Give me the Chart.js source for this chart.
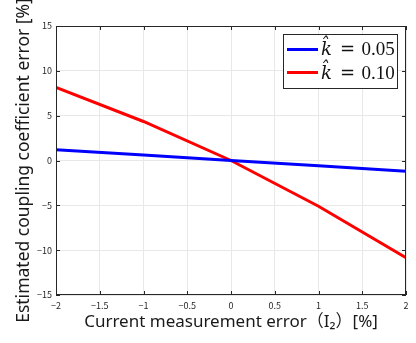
<!DOCTYPE html>
<html><head><meta charset="utf-8">
<script src="https://cdn.jsdelivr.net/npm/chart.js@4"></script>
<style>html,body{margin:0;padding:0;background:#fff}#wrap{width:416px;height:343px}</style>
</head><body><div id="wrap"><canvas id="c" width="416" height="343"></canvas></div>
<script>
const xErrors = [-2, -1, 0, 1, 2];
const seriesK = ['0.05', '0.10'];
const errK005 = [1.2, 0.62, 0, -0.58, -1.2];
const errK010 = [8.15, 4.35, 0, -5.1, -10.85];
const xTicks = [-2, -1.5, -1, -0.5, 0, 0.5, 1, 1.5, 2];
const yTicks = [-15, -10, -5, 0, 5, 10, 15];
const xTitle = 'Current measurement error（I₂）[%]';
const yTitle = 'Estimated coupling coefficient error [%]';

const fmt = v => String(v).replace('-', '\u2212');
const axisColor = '#262626';
const tickFont = {family: '"Noto Sans CJK JP"', size: 9};

const boxPlugin = {
  id: 'box',
  afterDatasetsDraw(chart) {
    const {ctx, chartArea: a, scales} = chart;
    ctx.save();
    ctx.strokeStyle = axisColor;
    ctx.lineWidth = 1;
    ctx.strokeRect(Math.round(a.left) + 0.5, Math.round(a.top) + 0.5,
      Math.round(a.right - a.left) - 1, Math.round(a.bottom - a.top) - 1);
    const L = 4;
    ctx.beginPath();
    xTicks.forEach(v => {
      const x = Math.round(scales.x.getPixelForValue(v)) + 0.5;
      ctx.moveTo(x, a.bottom); ctx.lineTo(x, a.bottom - L);
      ctx.moveTo(x, a.top); ctx.lineTo(x, a.top + L);
    });
    yTicks.forEach(v => {
      const y = Math.round(scales.y.getPixelForValue(v)) + 0.5;
      ctx.moveTo(a.left, y); ctx.lineTo(a.left + L, y);
      ctx.moveTo(a.right, y); ctx.lineTo(a.right - L, y);
    });
    ctx.stroke();
    ctx.restore();
  },
  afterDraw(chart) {
    const {ctx} = chart;
    const bx = 283.5, by = 34.5, bw = 114, bh = 54;
    ctx.save();
    ctx.fillStyle = '#fff';
    ctx.fillRect(bx, by, bw, bh);
    ctx.strokeStyle = axisColor;
    ctx.lineWidth = 1;
    ctx.strokeRect(bx, by, bw, bh);
    chart.data.datasets.forEach((ds, i) => {
      const y = 49.5 + i * 23;
      ctx.strokeStyle = ds.borderColor;
      ctx.lineWidth = 3;
      ctx.beginPath(); ctx.moveTo(287, y); ctx.lineTo(318, y); ctx.stroke();
      ctx.fillStyle = '#111';
      ctx.textBaseline = 'alphabetic';
      const base = 55 + i * 23.5;
      ctx.font = 'italic 18px "DejaVu Serif"';
      ctx.fillText('k\u0302', 321, base);
      ctx.font = '18px "DejaVu Serif"';
      ctx.fillText('=', 340, base);
      ctx.font = '19px "Liberation Serif"';
      ctx.fillText(seriesK[i], 361.5, base);
    });
    ctx.restore();
  }
};

new Chart(document.getElementById('c'), {
  type: 'line',
  data: {
    datasets: [
      {label: 'k = ' + seriesK[0], data: xErrors.map((x, i) => ({x, y: errK005[i]})),
       borderColor: '#0000ff', borderWidth: 3, pointRadius: 0, tension: 0, fill: false},
      {label: 'k = ' + seriesK[1], data: xErrors.map((x, i) => ({x, y: errK010[i]})),
       borderColor: '#ff0000', borderWidth: 3, pointRadius: 0, tension: 0, fill: false}
    ]
  },
  options: {
    responsive: false, animation: false, devicePixelRatio: 1,
    layout: {padding: {top: 26, right: 10, left: 0, bottom: 0}},
    plugins: {legend: {display: false}, tooltip: {enabled: false}},
    scales: {
      x: {
        type: 'linear', min: -2, max: 2,
        afterBuildTicks: s => { s.ticks = xTicks.map(v => ({value: v})); },
        afterFit: s => { s.height = 48; },
        grid: {color: '#e8e8e8', drawTicks: false},
        border: {display: false},
        ticks: {font: tickFont, color: axisColor, padding: 5, maxRotation: 0, callback: v => fmt(v)},
        title: {display: true, text: xTitle, font: {family: '"Noto Sans", "Noto Sans CJK JP"', size: 17},
          color: '#1a1a1a', padding: {top: 0, bottom: 11}}
      },
      y: {
        type: 'linear', min: -15, max: 15,
        afterBuildTicks: s => { s.ticks = yTicks.map(v => ({value: v})); },
        afterFit: s => { s.width = 56; },
        grid: {color: '#e8e8e8', drawTicks: false},
        border: {display: false},
        ticks: {font: tickFont, color: axisColor, padding: 4, callback: v => fmt(v)},
        title: {display: true, text: yTitle, font: {family: '"Noto Sans", "Noto Sans CJK JP"', size: 17.5},
          color: '#1a1a1a', padding: {top: 14, bottom: 0}}
      }
    }
  },
  plugins: [boxPlugin]
});
</script></body></html>
